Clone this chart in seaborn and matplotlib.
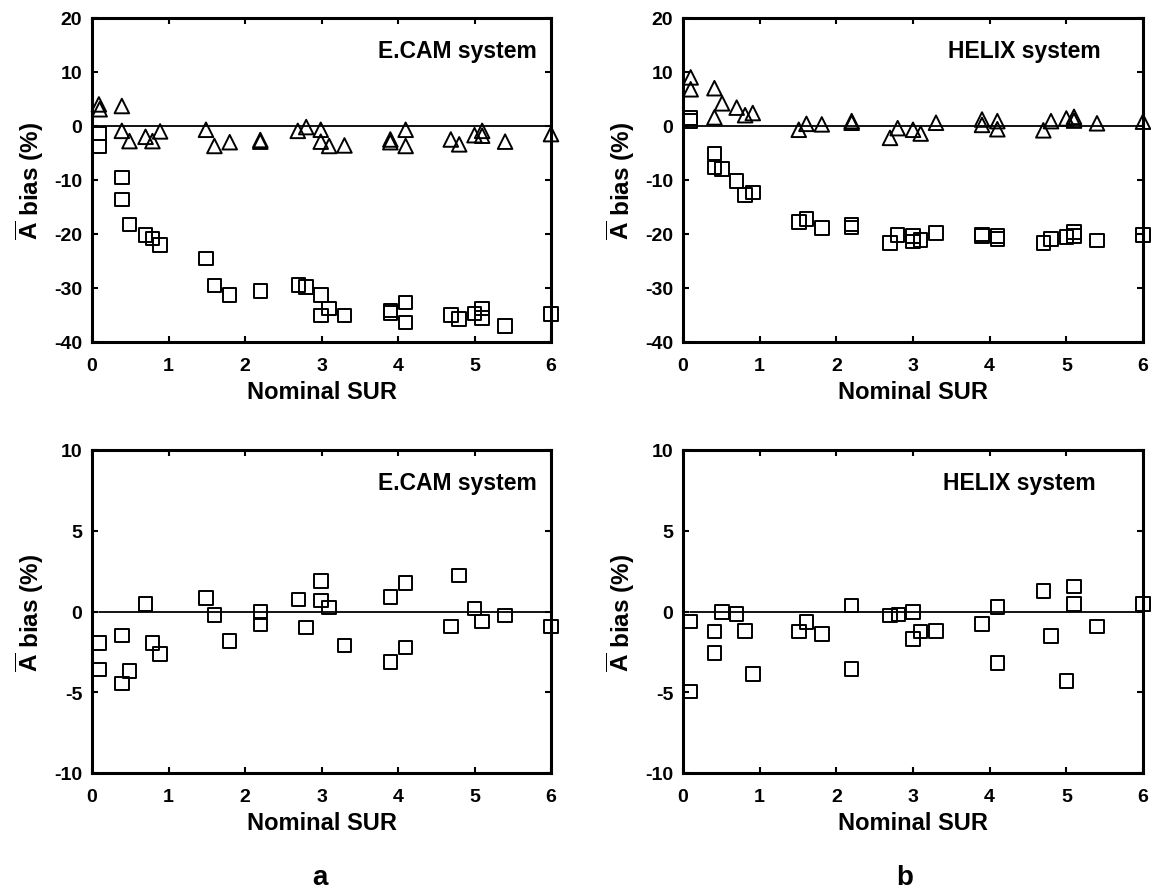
import matplotlib
matplotlib.use("Agg")
import matplotlib.pyplot as plt
import seaborn as sns
import pandas as pd

sns.set_theme(style="white")
plt.rcParams['font.family'] = ['Liberation Sans', 'DejaVu Sans']
plt.rcParams['mathtext.fontset'] = 'custom'
plt.rcParams['mathtext.bf'] = 'Liberation Sans:bold'
plt.rcParams['mathtext.rm'] = 'Liberation Sans'
plt.rcParams['axes.unicode_minus'] = False
plt.rcParams['text.color'] = 'black'
plt.rcParams['axes.labelcolor'] = 'black'
plt.rcParams['xtick.color'] = 'black'
plt.rcParams['ytick.color'] = 'black'

# ---- Data: panel a (E.CAM), top: triangles and squares ----
ecam_tri_x = [0.09, 0.1, 0.39, 0.39, 0.49, 0.7, 0.79, 0.89, 1.49, 1.6, 1.8, 2.2, 2.2,
              2.69, 2.8, 2.99, 2.99, 3.1, 3.3, 3.9, 3.9, 4.1, 4.1, 4.69, 4.8, 5.0, 5.1, 5.1, 5.4, 6.0]
ecam_tri_y = [4.0, 3.1, 3.7, -0.9, -2.8, -2.0, -2.8, -1.0, -0.7, -3.7, -3.0, -2.6, -2.9,
              -0.9, -0.2, -0.7, -2.9, -3.7, -3.6, -2.5, -3.0, -0.7, -3.7, -2.5, -3.4, -1.7, -0.9, -1.8, -2.9, -1.5]

ecam_sq_x = [0.1, 0.1, 0.39, 0.39, 0.49, 0.7, 0.79, 0.89, 1.49, 1.6, 1.8, 2.2,
             2.7, 2.8, 2.99, 3.1, 2.99, 3.3, 3.9, 3.9, 4.1, 4.1, 4.69, 4.8, 5.0, 5.1, 5.1, 5.4, 6.0]
ecam_sq_y = [-1.35, -3.8, -9.5, -13.6, -18.2, -20.2, -20.8, -22.0, -24.5, -29.5, -31.3, -30.6,
             -29.4, -29.8, -31.3, -33.8, -35.1, -35.1, -34.2, -34.6, -32.7, -36.4, -35.0, -35.7, -34.7, -33.8, -35.6, -37.0, -34.8]

# ---- Data: panel b (HELIX), top ----
helix_tri_x = [0.1, 0.1, 0.41, 0.41, 0.51, 0.7, 0.81, 0.91, 1.51, 1.61, 1.81, 2.2, 2.2,
               2.7, 2.8, 3.0, 3.1, 3.3, 3.9, 3.9, 4.1, 4.1, 4.7, 4.8, 5.0, 5.1, 5.1, 5.4, 6.0]
helix_tri_y = [9.0, 6.8, 7.0, 1.6, 4.2, 3.4, 2.0, 2.4, -0.7, 0.4, 0.3, 0.9, 0.6,
               -2.2, -0.4, -0.7, -1.4, 0.6, 1.2, 0.2, 0.9, -0.6, -0.8, 0.9, 1.4, 1.7, 1.0, 0.5, 0.8]

helix_sq_x = [0.1, 0.1, 0.41, 0.41, 0.51, 0.7, 0.81, 0.91, 1.51, 1.61, 1.81, 2.2, 2.2,
              2.7, 2.8, 3.0, 3.0, 3.1, 3.3, 3.9, 3.9, 4.1, 4.1, 4.7, 4.8, 5.0, 5.1, 5.1, 5.4, 6.0]
helix_sq_y = [1.5, 0.9, -5.1, -7.7, -8.0, -10.2, -12.8, -12.3, -17.8, -17.2, -18.9, -18.2, -18.8,
              -21.7, -20.2, -20.4, -21.4, -21.1, -19.8, -20.1, -20.4, -20.4, -20.9, -21.7, -20.9, -20.6, -19.6, -20.4, -21.2, -20.2]

# ---- Data: bottom panels (squares only) ----
ecam_bot_x = [0.1, 0.1, 0.39, 0.39, 0.49, 0.7, 0.79, 0.89, 1.49, 1.6, 1.8, 2.2, 2.2,
              2.7, 2.8, 2.99, 2.99, 3.1, 3.3, 3.9, 3.9, 4.1, 4.1, 4.69, 4.8, 5.0, 5.1, 5.4, 6.0]
ecam_bot_y = [-1.94, -3.6, -1.48, -4.47, -3.7, 0.47, -1.94, -2.64, 0.85, -0.23, -1.81, -0.04, -0.8,
              0.74, -1.0, 1.9, 0.68, 0.25, -2.1, 0.9, -3.13, 1.77, -2.23, -0.93, 2.23, 0.2, -0.62, -0.25, -0.93]

helix_bot_x = [0.1, 0.1, 0.41, 0.41, 0.51, 0.7, 0.81, 0.91, 1.51, 1.61, 1.81, 2.2, 2.2,
               2.7, 2.81, 3.0, 3.0, 3.1, 3.3, 3.9, 4.1, 4.1, 4.7, 4.8, 5.0, 5.1, 5.1, 5.4, 6.0]
helix_bot_y = [-0.62, -4.95, -1.24, -2.56, -0.04, -0.16, -1.2, -3.86, -1.24, -0.66, -1.4, 0.37, -3.55,
               -0.25, -0.19, -0.04, -1.69, -1.24, -1.2, -0.76, 0.27, -3.2, 1.26, -1.53, -4.31, 1.55, 0.47, -0.93, 0.47]

x_ticks = [0, 1, 2, 3, 4, 5, 6]
top_yticks = [-40, -30, -20, -10, 0, 10, 20]
bot_yticks = [-10, -5, 0, 5, 10]
xlabel = "Nominal SUR"
ylabel = r"$\mathbf{\overline{A}}$ bias (%)"

W, H = 1151, 895
fig = plt.figure(figsize=(W / 100, H / 100), dpi=100)

def px_axes(left, top, right, bottom):
    return fig.add_axes([left / W, 1 - bottom / H, (right - left) / W, (bottom - top) / H])

axes = {
    'a_top': px_axes(92, 19, 551, 343),
    'b_top': px_axes(683, 19, 1143, 343),
    'a_bot': px_axes(92, 451, 551, 774),
    'b_bot': px_axes(683, 451, 1143, 774),
}

def scatter(ax, xs, ys, marker, size):
    df = pd.DataFrame({'x': xs, 'y': ys})
    sns.scatterplot(data=df, x='x', y='y', ax=ax, marker=marker, s=size,
                    facecolor='none', edgecolor='black', linewidth=1.4, zorder=3,
                    legend=False, clip_on=False)

def style(ax, yticks, label, text_x, line_start):
    ax.set_xlim(0, 6)
    ax.set_ylim(yticks[0], yticks[-1])
    ax.set_xticks(x_ticks)
    ax.set_yticks(yticks)
    ax.plot([line_start, 6], [0, 0], color='black', linewidth=1.3, zorder=2)
    for sp in ax.spines.values():
        sp.set_color('black')
        sp.set_linewidth(2.2)
    ax.tick_params(direction='in', length=4, width=1.5, top=True, right=True,
                   bottom=True, left=True, labelsize=14, colors='black')
    ax.tick_params(axis='y', pad=7)
    ax.tick_params(axis='x', pad=11)
    for t in ax.get_xticklabels() + ax.get_yticklabels():
        t.set_fontweight('bold')
    ax.set_xlabel(xlabel, fontsize=17, fontweight='bold', labelpad=4)
    ax.set_ylabel(ylabel, fontsize=17.5, fontweight='bold', labelpad=6)
    ax.text(text_x, 0.90, label, transform=ax.transAxes,
            ha='right', va='center', fontsize=16.5, fontweight='bold')
    ax.grid(False)

ax = axes['a_top']
scatter(ax, ecam_tri_x, ecam_tri_y, '^', 110)
scatter(ax, ecam_sq_x, ecam_sq_y, 's', 95)
style(ax, top_yticks, "E.CAM system", 0.97, 0)

ax = axes['b_top']
scatter(ax, helix_tri_x, helix_tri_y, '^', 110)
scatter(ax, helix_sq_x, helix_sq_y, 's', 95)
style(ax, top_yticks, "HELIX system", 0.908, 0)

ax = axes['a_bot']
scatter(ax, ecam_bot_x, ecam_bot_y, 's', 95)
style(ax, bot_yticks, "E.CAM system", 0.97, 0.09)

ax = axes['b_bot']
scatter(ax, helix_bot_x, helix_bot_y, 's', 95)
style(ax, bot_yticks, "HELIX system", 0.896, 0.09)

fig.text(320 / W, 1 - 878 / H, "a", fontsize=20, fontweight='bold', ha='center', va='center')
fig.text(905 / W, 1 - 878 / H, "b", fontsize=20, fontweight='bold', ha='center', va='center')

fig.savefig("out.png", dpi=100, facecolor='white')
